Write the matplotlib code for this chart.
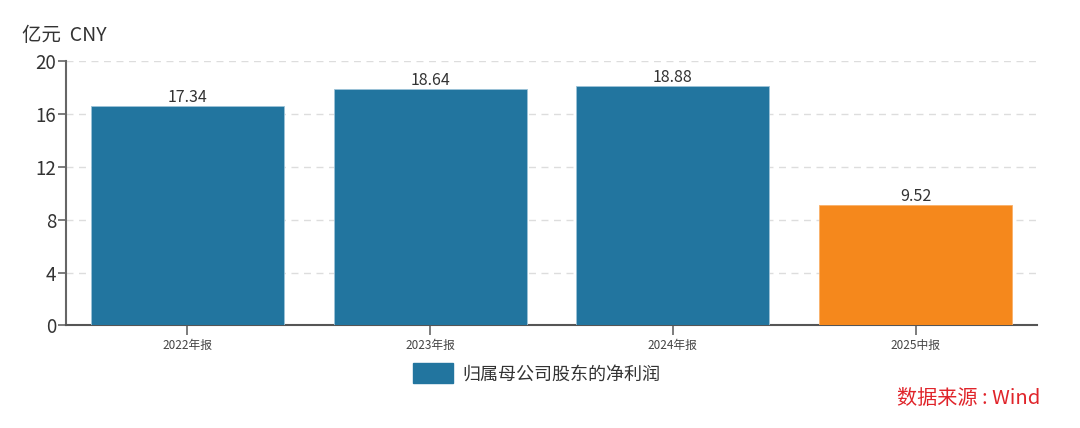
import matplotlib.pyplot as plt
from matplotlib.patches import Patch

plt.rcParams['font.family'] = ['Noto Sans CJK SC', 'DejaVu Sans']

categories = ["2022年报", "2023年报", "2024年报", "2025中报"]
# bar heights as drawn in the picture (the printed labels are larger than the bars)
bar_values = [16.6, 17.85, 18.1, 9.12]
value_labels = ["17.34", "18.64", "18.88", "9.52"]
bar_colors = ["#22759f", "#22759f", "#22759f", "#f5881c"]
yticks = [0, 4, 8, 12, 16, 20]

fig = plt.figure(figsize=(10.8, 4.28), dpi=100)
ax = fig.add_axes([0.0611, 0.2395, 0.8990, 0.618])

x = range(len(categories))
bars = ax.bar(x, bar_values, width=0.795, color=bar_colors,
              edgecolor="#9cc3d8", linewidth=0.6, zorder=3)
bars[3].set_edgecolor("#f9b06a")

for b, lab in zip(bars, value_labels):
    ax.text(b.get_x() + b.get_width() / 2, b.get_height() + 0.02, lab,
            ha="center", va="bottom", fontsize=11.5, color="#333333")

ax.set_xlim(-0.5, len(categories) - 0.5)
ax.set_ylim(0, 20)
ax.set_yticks(yticks)
ax.set_yticklabels([str(t) for t in yticks], fontsize=13.5, color="#333333")
ax.set_xticks(list(x))
ax.set_xticklabels(categories, fontsize=8.5, color="#444444")
ax.tick_params(axis="y", length=6, width=1.2, color="#666666", pad=1)
ax.tick_params(axis="x", length=7, width=1.2, color="#666666", pad=3)

ax.yaxis.grid(True, linestyle=(0, (5, 4)), color="#dddddd", linewidth=1, zorder=0)
for s in ["top", "right"]:
    ax.spines[s].set_visible(False)
ax.spines["left"].set_color("#666666")
ax.spines["left"].set_linewidth(1.5)
ax.spines["bottom"].set_color("#555555")
ax.spines["bottom"].set_linewidth(1.5)

fig.text(0.020, 0.918, "亿元  CNY", fontsize=14, color="#333333", ha="left", va="center")

handle = Patch(facecolor="#22759f", edgecolor="#22759f")
fig.legend(handles=[handle], labels=["归属母公司股东的净利润"], loc="center",
           bbox_to_anchor=(0.497, 0.128), frameon=False, fontsize=13,
           handlelength=2.2, handleheight=1.3, handletextpad=0.5,
           labelcolor="#333333")

fig.text(0.963, 0.07, "数据来源 : Wind", fontsize=14.5, color="#e0242a",
         ha="right", va="center")

fig.savefig("out.png", dpi=100)
